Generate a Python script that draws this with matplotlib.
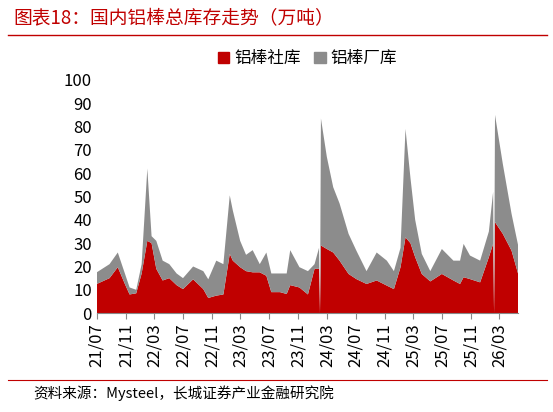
import matplotlib
matplotlib.use("Agg")
import matplotlib.pyplot as plt
import matplotlib.dates as mdates
import pandas as pd
from matplotlib.lines import Line2D
from matplotlib.patches import Patch

plt.rcParams['font.family'] = ['Noto Sans CJK SC', 'DejaVu Sans']

dates = ["2021-07-01","2021-08-24","2021-09-28","2021-10-28","2021-11-17","2021-12-15","2022-01-07",
 "2022-01-31","2022-02-18","2022-03-10","2022-04-06","2022-05-04","2022-06-04","2022-07-01","2022-08-13",
 "2022-09-25","2022-10-16","2022-11-19","2022-12-19","2023-01-15","2023-01-28","2023-02-28","2023-03-25",
 "2023-04-22","2023-05-22","2023-06-19","2023-07-10","2023-08-16","2023-09-13","2023-09-28",
 "2023-11-06","2023-12-12","2024-01-09","2024-01-28","2024-02-01","2024-02-05","2024-03-01","2024-03-28",
 "2024-04-24","2024-06-01","2024-07-04","2024-08-16","2024-09-28","2024-11-10","2024-12-10",
 "2025-01-07","2025-01-28","2025-02-18","2025-03-10","2025-04-07","2025-05-13","2025-07-01","2025-08-19",
 "2025-09-16","2025-10-01","2025-10-28","2025-12-10","2026-01-16","2026-02-03","2026-02-07","2026-02-11",
 "2026-03-16","2026-04-22","2026-05-20"]
social = [12.5,15,19.7,12.5,8,8.5,17,31,30,19,14,15,12,10.3,14.5,10.3,6.5,7.5,8,25.4,22.5,19.7,18,
 17.5,17.5,16,9,9,8.2,12,
 11,8,19,19,0,29,27.5,26,22.5,16.8,14.6,12.5,14,11.8,10.3,
 19.7,32.5,30,24,16.8,13.6,16.8,14,12.5,15.4,14.6,13.2,24,29.7,0,39,34,26.8,16.8]
total = [17.5,21,26,17,11,10,21,62,33,31,22.5,21,17,15,20,18,14.5,22.5,21,50.5,44,31,25,27,21,26,17,
 17,17,27,
 19.7,18,21,28,0,83.5,67,54,47,34,26.8,18,26,22.5,18,
 28,79,58,40,25.4,18,27.5,22.5,22.5,29.7,24.7,22.5,35,52,0,85,64,42.6,29]
assert len(dates) == len(social) == len(total), (len(dates), len(social), len(total))
d = pd.to_datetime(dates)
factory = [a - b for a, b in zip(total, social)]

red = '#C00000'; gray = '#8C8C8C'
fig = plt.figure(figsize=(5.53, 4.12), dpi=100)
ax = fig.add_axes([0.175, 0.24, 0.762, 0.566])
ax.stackplot(d, social, factory, colors=[red, gray], linewidth=0)
ax.set_ylim(0, 100)
ax.set_yticks(range(0, 101, 10))
ax.set_xlim(pd.Timestamp('2021-07-01'), d[-1])
ax.xaxis.set_major_locator(mdates.MonthLocator(bymonth=[3, 7, 11]))
ax.xaxis.set_major_formatter(mdates.DateFormatter('%y/%m'))
plt.setp(ax.get_xticklabels(), rotation=90)
ax.tick_params(axis='y', length=0, labelsize=12)
ax.tick_params(axis='x', labelsize=12, color='#888888', length=4)
for sp in ['top', 'right', 'left']:
    ax.spines[sp].set_visible(False)
ax.spines['bottom'].set_color('#888888')
ax.legend(handles=[Patch(color=red, label='铝棒社库'), Patch(color=gray, label='铝棒厂库')],
          loc='lower center', bbox_to_anchor=(0.5, 0.99), ncol=2, frameon=False, fontsize=12,
          handlelength=0.7, handleheight=0.7, handletextpad=0.3, columnspacing=0.8)

fig.text(0.025, 0.955, '图表18：国内铝棒总库存走势（万吨）', color=red, fontsize=13.5, style='italic', va='center')
fig.add_artist(Line2D([0.015, 0.99], [0.915, 0.915], color=red, lw=1))
fig.add_artist(Line2D([0.015, 0.99], [0.077, 0.077], color=red, lw=0.8))
fig.text(0.06, 0.045, '资料来源：Mysteel，长城证券产业金融研究院', fontsize=10.5, style='italic', va='center')
fig.savefig('out.png', dpi=100)
